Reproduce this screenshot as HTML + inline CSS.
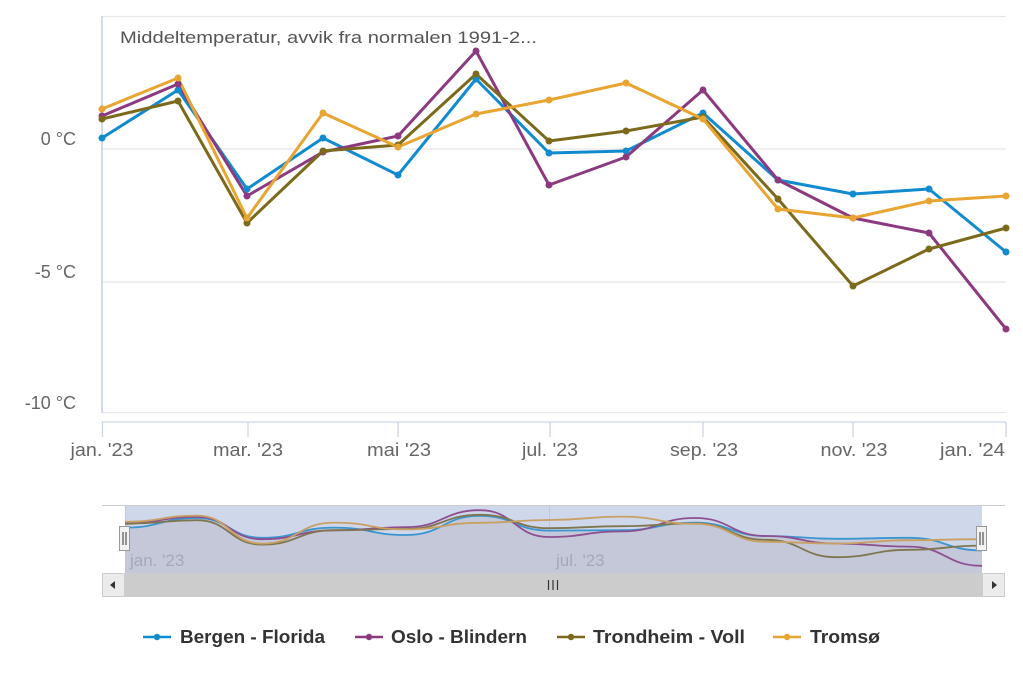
<!DOCTYPE html>
<html><head><meta charset="utf-8">
<style>
html,body{margin:0;padding:0;background:#fff;}
svg{display:block;font-family:"Liberation Sans",Arial,sans-serif;}
</style></head>
<body>
<svg width="1023" height="682" viewBox="0 0 1023 682" xmlns="http://www.w3.org/2000/svg">
<rect x="0" y="0" width="1023" height="682" fill="#fff"/>
<!-- gridlines -->
<g stroke="#e6e6e6" stroke-width="1.2" fill="none">
<line x1="102" y1="16.5" x2="1006" y2="16.5"/>
<line x1="102" y1="149" x2="1006" y2="149"/>
<line x1="102" y1="282" x2="1006" y2="282"/>
<line x1="102" y1="412.5" x2="1006" y2="412.5"/>
</g>
<line x1="102" y1="16" x2="102" y2="413" stroke="#ccd6eb" stroke-width="1.8"/>
<!-- x axis -->
<g stroke="#ccd6eb" stroke-width="1.3">
<line x1="102" y1="422" x2="1006" y2="422"/>
<line x1="102.5" y1="422" x2="102.5" y2="437"/>
<line x1="248" y1="422" x2="248" y2="437"/>
<line x1="398" y1="422" x2="398" y2="437"/>
<line x1="550" y1="422" x2="550" y2="437"/>
<line x1="703" y1="422" x2="703" y2="437"/>
<line x1="853" y1="422" x2="853" y2="437"/>
<line x1="1006" y1="422" x2="1006" y2="437"/>
</g>
<g fill="#666" font-size="18">
<text x="102" y="456" text-anchor="middle" textLength="63" lengthAdjust="spacingAndGlyphs">jan. '23</text>
<text x="248" y="456" text-anchor="middle" textLength="70" lengthAdjust="spacingAndGlyphs">mar. '23</text>
<text x="399" y="456" text-anchor="middle" textLength="64" lengthAdjust="spacingAndGlyphs">mai '23</text>
<text x="550" y="456" text-anchor="middle" textLength="56" lengthAdjust="spacingAndGlyphs">jul. '23</text>
<text x="704" y="456" text-anchor="middle" textLength="68" lengthAdjust="spacingAndGlyphs">sep. '23</text>
<text x="854" y="456" text-anchor="middle" textLength="67" lengthAdjust="spacingAndGlyphs">nov. '23</text>
<text x="1005" y="456" text-anchor="end" textLength="65" lengthAdjust="spacingAndGlyphs">jan. '24</text>
</g>
<g fill="#666" font-size="18" text-anchor="end">
<text x="76" y="145">0 °C</text>
<text x="76" y="278">-5 °C</text>
<text x="76" y="409">-10 °C</text>
</g>
<text x="120" y="43" fill="#555" font-size="17" textLength="417" lengthAdjust="spacingAndGlyphs">Middeltemperatur, avvik fra normalen 1991-2...</text>

<!-- series -->
<g fill="none" stroke-width="3" stroke-linejoin="round">
<polyline stroke="#118bcf" points="102,138 178,90 247,189 323,138 398,175 476,79 549,153 626,151 703,113 778,180 853,194 929,189 1006,252"/>
<polyline stroke="#8c3a80" points="102,116 178,84 247,196 323,152 398,136 476,51 549,185 626,157 703,90 778,180 853,218 929,233 1006,329"/>
<polyline stroke="#7c6a1c" points="102,119 178,101 247,223 323,151 398,145 476,74 549,141 626,131 703,117 778,199 853,286 929,249 1006,228"/>
<polyline stroke="#e9a531" points="102,109 178,78 247,218 323,113 398,147 476,114 549,100 626,83 703,119 778,209 853,218 929,201 1006,196"/>
</g>
<g fill="#118bcf">
<circle cx="102" cy="138" r="3.5"/><circle cx="178" cy="90" r="3.5"/><circle cx="247" cy="189" r="3.5"/><circle cx="323" cy="138" r="3.5"/><circle cx="398" cy="175" r="3.5"/><circle cx="476" cy="79" r="3.5"/><circle cx="549" cy="153" r="3.5"/><circle cx="626" cy="151" r="3.5"/><circle cx="703" cy="113" r="3.5"/><circle cx="778" cy="180" r="3.5"/><circle cx="853" cy="194" r="3.5"/><circle cx="929" cy="189" r="3.5"/><circle cx="1006" cy="252" r="3.5"/>
</g>
<g fill="#8c3a80">
<circle cx="102" cy="116" r="3.5"/><circle cx="178" cy="84" r="3.5"/><circle cx="247" cy="196" r="3.5"/><circle cx="323" cy="152" r="3.5"/><circle cx="398" cy="136" r="3.5"/><circle cx="476" cy="51" r="3.5"/><circle cx="549" cy="185" r="3.5"/><circle cx="626" cy="157" r="3.5"/><circle cx="703" cy="90" r="3.5"/><circle cx="778" cy="180" r="3.5"/><circle cx="853" cy="218" r="3.5"/><circle cx="929" cy="233" r="3.5"/><circle cx="1006" cy="329" r="3.5"/>
</g>
<g fill="#7c6a1c">
<circle cx="102" cy="119" r="3.5"/><circle cx="178" cy="101" r="3.5"/><circle cx="247" cy="223" r="3.5"/><circle cx="323" cy="151" r="3.5"/><circle cx="398" cy="145" r="3.5"/><circle cx="476" cy="74" r="3.5"/><circle cx="549" cy="141" r="3.5"/><circle cx="626" cy="131" r="3.5"/><circle cx="703" cy="117" r="3.5"/><circle cx="778" cy="199" r="3.5"/><circle cx="853" cy="286" r="3.5"/><circle cx="929" cy="249" r="3.5"/><circle cx="1006" cy="228" r="3.5"/>
</g>
<g fill="#e9a531">
<circle cx="102" cy="109" r="3.5"/><circle cx="178" cy="78" r="3.5"/><circle cx="247" cy="218" r="3.5"/><circle cx="323" cy="113" r="3.5"/><circle cx="398" cy="147" r="3.5"/><circle cx="476" cy="114" r="3.5"/><circle cx="549" cy="100" r="3.5"/><circle cx="626" cy="83" r="3.5"/><circle cx="703" cy="119" r="3.5"/><circle cx="778" cy="209" r="3.5"/><circle cx="853" cy="218" r="3.5"/><circle cx="929" cy="201" r="3.5"/><circle cx="1006" cy="196" r="3.5"/>
</g>

<!-- navigator -->
<rect x="125" y="506" width="857" height="67" fill="#cfd7eb"/>
<path d="M125,527.6 C161,527.6 161,518 197,518 C229.5,518 229.5,537.8 262,537.8 C298,537.8 298,527.6 334,527.6 C370,527.6 370,535 406,535 C443,535 443,515.8 480,515.8 C514.5,515.8 514.5,530.6 549,530.6 C585.5,530.6 585.5,530.2 622,530.2 C658.5,530.2 658.5,522.6 695,522.6 C730.5,522.6 730.5,536 766,536 C801.5,536 801.5,538.8 837,538.8 C873,538.8 873,537.8 909,537.8 C945.5,537.8 945.5,550.4 982,550.4 L982,573 L125,573 Z" fill="#c4c8d9"/>
<g stroke="#c0c7da" stroke-width="1">
<line x1="125.5" y1="506" x2="125.5" y2="573"/>
<line x1="549.5" y1="506" x2="549.5" y2="573"/>
</g>
<g fill="none" stroke-width="1.8">
<path stroke="#3b96cf" d="M125,527.6 C161,527.6 161,518 197,518 C229.5,518 229.5,537.8 262,537.8 C298,537.8 298,527.6 334,527.6 C370,527.6 370,535 406,535 C443,535 443,515.8 480,515.8 C514.5,515.8 514.5,530.6 549,530.6 C585.5,530.6 585.5,530.2 622,530.2 C658.5,530.2 658.5,522.6 695,522.6 C730.5,522.6 730.5,536 766,536 C801.5,536 801.5,538.8 837,538.8 C873,538.8 873,537.8 909,537.8 C945.5,537.8 945.5,550.4 982,550.4"/>
<path stroke="#8e4f91" d="M125,523.2 C161,523.2 161,516.8 197,516.8 C229.5,516.8 229.5,539.2 262,539.2 C298,539.2 298,530.4 334,530.4 C370,530.4 370,527.2 406,527.2 C443,527.2 443,510.2 480,510.2 C514.5,510.2 514.5,537 549,537 C585.5,537 585.5,531.4 622,531.4 C658.5,531.4 658.5,518 695,518 C730.5,518 730.5,536 766,536 C801.5,536 801.5,543.6 837,543.6 C873,543.6 873,546.6 909,546.6 C945.5,546.6 945.5,565.8 982,565.8"/>
<path stroke="#7f7650" d="M125,523.8 C161,523.8 161,520.2 197,520.2 C229.5,520.2 229.5,544.6 262,544.6 C298,544.6 298,530.2 334,530.2 C370,530.2 370,529 406,529 C443,529 443,514.8 480,514.8 C514.5,514.8 514.5,528.2 549,528.2 C585.5,528.2 585.5,526.2 622,526.2 C658.5,526.2 658.5,523.4 695,523.4 C730.5,523.4 730.5,539.8 766,539.8 C801.5,539.8 801.5,557.2 837,557.2 C873,557.2 873,549.8 909,549.8 C945.5,549.8 945.5,545.6 982,545.6"/>
<path stroke="#c9a063" d="M125,521.8 C161,521.8 161,515.6 197,515.6 C229.5,515.6 229.5,543.6 262,543.6 C298,543.6 298,522.6 334,522.6 C370,522.6 370,529.4 406,529.4 C443,529.4 443,522.8 480,522.8 C514.5,522.8 514.5,520 549,520 C585.5,520 585.5,516.6 622,516.6 C658.5,516.6 658.5,523.8 695,523.8 C730.5,523.8 730.5,541.8 766,541.8 C801.5,541.8 801.5,543.6 837,543.6 C873,543.6 873,540.2 909,540.2 C945.5,540.2 945.5,539.2 982,539.2"/>
</g>
<g fill="#a3a9ba" font-size="17">
<text x="130" y="566">jan. '23</text>
<text x="556" y="566">jul. '23</text>
</g>
<line x1="102" y1="505.5" x2="1005" y2="505.5" stroke="#cccccc" stroke-width="1"/>
<!-- handles -->
<rect x="119.5" y="526.5" width="10" height="24" fill="#f2f2f2" stroke="#999" stroke-width="1"/>
<line x1="123" y1="532" x2="123" y2="545" stroke="#333" stroke-width="1"/>
<line x1="126" y1="532" x2="126" y2="545" stroke="#333" stroke-width="1"/>
<rect x="976.5" y="526.5" width="10" height="24" fill="#f2f2f2" stroke="#999" stroke-width="1"/>
<line x1="980" y1="532" x2="980" y2="545" stroke="#333" stroke-width="1"/>
<line x1="983" y1="532" x2="983" y2="545" stroke="#333" stroke-width="1"/>
<!-- scrollbar -->
<rect x="102" y="573" width="903" height="24" fill="#f2f2f2"/>
<rect x="125" y="573" width="857" height="24" fill="#cccccc"/>
<rect x="102.5" y="573.5" width="22" height="23" fill="#ebebeb" stroke="#cccccc" stroke-width="1"/>
<rect x="982.5" y="573.5" width="22" height="23" fill="#ebebeb" stroke="#cccccc" stroke-width="1"/>
<path d="M110,585 L115,581 L115,589 Z" fill="#333"/>
<path d="M997,585 L992,581 L992,589 Z" fill="#333"/>
<g stroke="#333" stroke-width="1.2">
<line x1="548.5" y1="580" x2="548.5" y2="590"/>
<line x1="553" y1="580" x2="553" y2="590"/>
<line x1="557.5" y1="580" x2="557.5" y2="590"/>
</g>

<!-- legend -->
<g stroke-width="2.6">
<line x1="143" y1="637" x2="171" y2="637" stroke="#118bcf"/>
<line x1="355" y1="637" x2="383" y2="637" stroke="#8c3a80"/>
<line x1="557" y1="637" x2="585" y2="637" stroke="#7c6a1c"/>
<line x1="773" y1="637" x2="801" y2="637" stroke="#e9a531"/>
</g>
<circle cx="157" cy="637" r="3.2" fill="#118bcf"/>
<circle cx="369" cy="637" r="3.2" fill="#8c3a80"/>
<circle cx="571" cy="637" r="3.2" fill="#7c6a1c"/>
<circle cx="787" cy="637" r="3.2" fill="#e9a531"/>
<g fill="#333" font-size="18" font-weight="bold">
<text x="180" y="643" textLength="145" lengthAdjust="spacingAndGlyphs">Bergen - Florida</text>
<text x="391" y="643" textLength="136" lengthAdjust="spacingAndGlyphs">Oslo - Blindern</text>
<text x="593" y="643" textLength="152" lengthAdjust="spacingAndGlyphs">Trondheim - Voll</text>
<text x="810" y="643" textLength="70" lengthAdjust="spacingAndGlyphs">Tromsø</text>
</g>
</svg>
</body></html>
